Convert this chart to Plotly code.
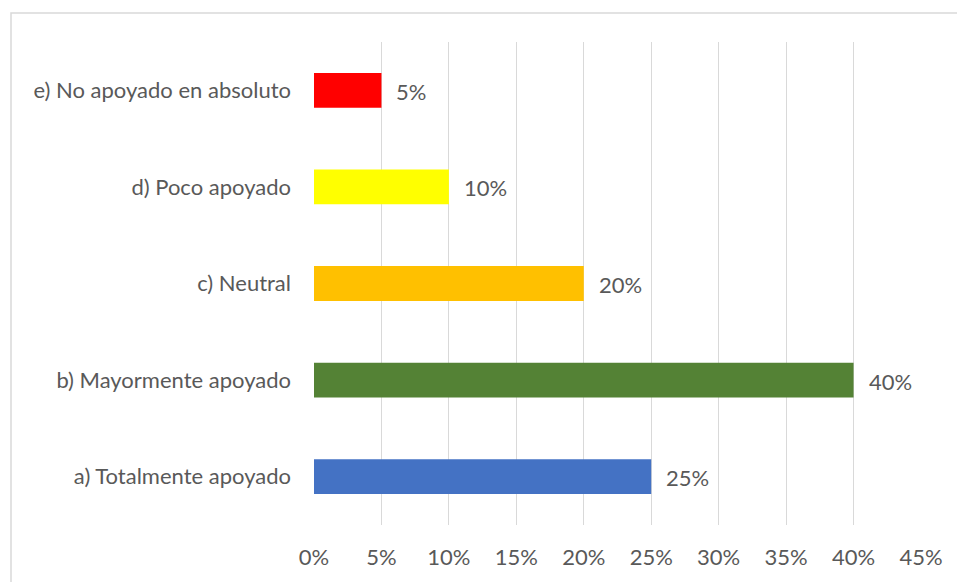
import plotly.graph_objects as go

# Survey responses, listed bottom to top
categories = [
    "a) Totalmente apoyado",
    "b) Mayormente apoyado",
    "c) Neutral",
    "d) Poco apoyado",
    "e) No apoyado en absoluto",
]
shares = [0.25, 0.40, 0.20, 0.10, 0.05]
bar_colors = ["#4472C4", "#548235", "#FFC000", "#FFFF00", "#FF0000"]
x_ticks = [0, 0.05, 0.10, 0.15, 0.20, 0.25, 0.30, 0.35, 0.40, 0.45]

W, H = 957, 582
margin = dict(l=314, r=36, t=42, b=55)
font_family = "Lato, 'Open Sans', sans-serif"
font_size = 22
text_color = "#595959"

fig = go.Figure(
    go.Bar(
        x=shares,
        y=categories,
        orientation="h",
        marker=dict(color=bar_colors, line=dict(width=0)),
        width=0.36,
        hoverinfo="skip",
    )
)

# Value labels just to the right of each bar
for cat, val in zip(categories, shares):
    fig.add_annotation(
        x=val, y=cat, text=f"{val:.0%}", showarrow=False,
        xanchor="left", yanchor="middle", xshift=13, yshift=-1,
        font=dict(family=font_family, size=font_size, color=text_color),
    )

# Light outer chart border
pw = W - margin["l"] - margin["r"]
ph = H - margin["t"] - margin["b"]
fig.add_shape(
    type="rect", xref="paper", yref="paper",
    x0=(11 - margin["l"]) / pw, x1=(960 - margin["l"]) / pw,
    y0=-(590 - (H - margin["b"])) / ph, y1=1 + (margin["t"] - 13) / ph,
    line=dict(color="#d9d9d9", width=1.5), layer="below",
)

fig.update_layout(
    width=W, height=H, margin=margin,
    paper_bgcolor="white", plot_bgcolor="white",
    showlegend=False,
    font=dict(family=font_family, size=font_size, color=text_color),
    xaxis=dict(
        range=[0, 0.45], tickvals=x_ticks, tickformat=".0%",
        showgrid=True, gridcolor="#d9d9d9", gridwidth=1.3,
        zeroline=False, showline=False, ticks="",
        ticklabelstandoff=17, fixedrange=True,
    ),
    yaxis=dict(
        categoryorder="array", categoryarray=categories,
        showgrid=False, zeroline=False, showline=False, ticks="",
        ticklabelstandoff=22, fixedrange=True,
    ),
)

fig.write_html("out.html")
